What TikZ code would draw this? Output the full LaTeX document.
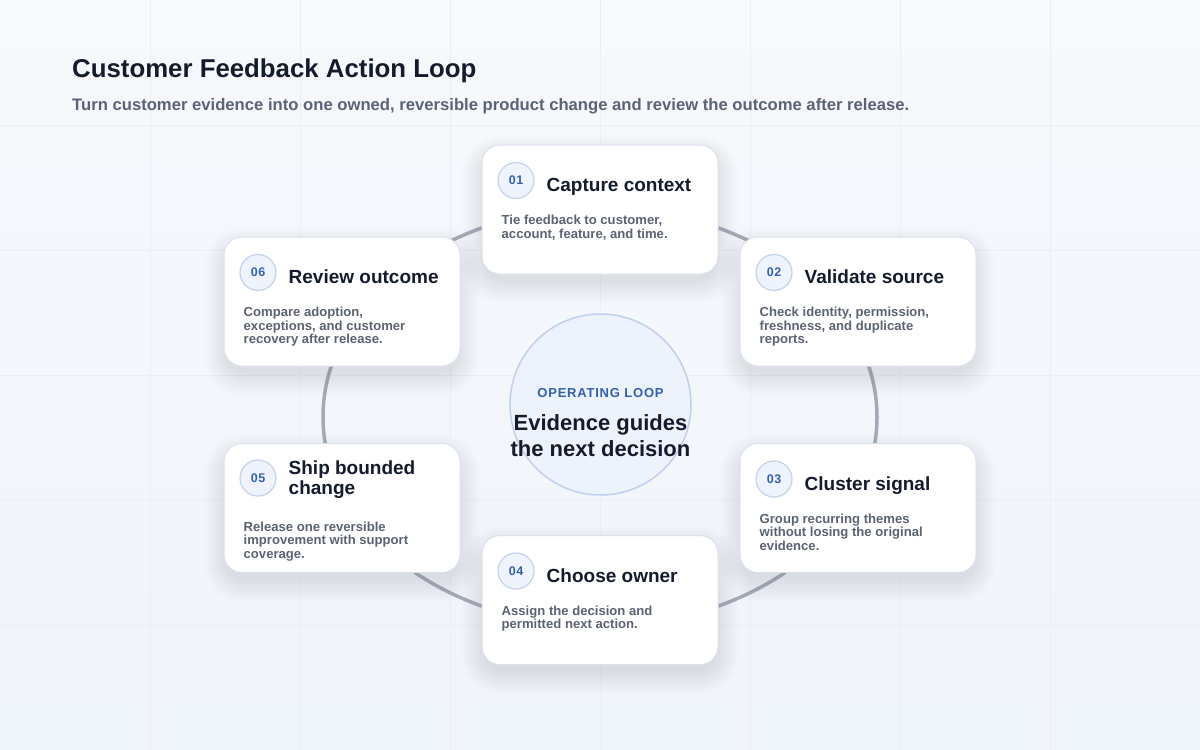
\documentclass[tikz,border=0pt]{standalone}
\usepackage{fontspec}
\setmainfont{Liberation Sans}
\newfontfamily\spacedfont[LetterSpace=6]{Liberation Sans}
\newfontfamily\badgefont[LetterSpace=4]{Liberation Sans}
\usetikzlibrary{calc}
\definecolor{bgtop}{HTML}{F7F9FC}
\definecolor{bgbot}{HTML}{F0F4FB}
\definecolor{gridc}{HTML}{EBEFF5}
\definecolor{ringc}{HTML}{A4AAB6}
\definecolor{cardedge}{HTML}{DCE2EC}
\definecolor{ink}{HTML}{141B2D}
\definecolor{subink}{HTML}{5B6476}
\definecolor{bodyink}{HTML}{5B6372}
\definecolor{accent}{HTML}{3461AE}
\definecolor{badgefill}{HTML}{EEF3FC}
\definecolor{badgeedge}{HTML}{C3D2EE}
\definecolor{hubfill}{HTML}{EDF3FD}
\definecolor{hubedge}{HTML}{BED0EE}
\definecolor{shadowc}{HTML}{5A6B8C}
\newcommand\cardshadow[2]{%
  \foreach \k in {0,...,11}{%
    \fill[shadowc, opacity=0.011, rounded corners=18pt+2pt*\k]
      (#1-116-2*\k, #2-62-2*\k+10) rectangle (#1+116+2*\k, #2+62+2*\k+10);
  }%
}
\tikzset{
  card/.style={draw=cardedge, line width=1pt, fill=white, rounded corners=18pt,
    minimum width=236pt, minimum height=129pt, inner sep=0pt},
  badge/.style={circle, fill=badgefill, draw=badgeedge, line width=1.2pt,
    minimum size=36pt, inner sep=0pt, text=accent,
    font=\badgefont\fontsize{12.5}{14}\selectfont\bfseries},
  ctitle/.style={anchor=base west, inner sep=0pt, text=ink,
    font=\fontsize{19}{20.5}\selectfont\bfseries},
  cbody/.style={anchor=base west, inner sep=0pt, text=bodyink,
    font=\fontsize{13.1}{13.5}\selectfont\bfseries},
  hub/.style={circle, fill=hubfill, draw=hubedge, line width=1.5pt,
    minimum size=181pt, inner sep=0pt},
}
\begin{document}
\begin{tikzpicture}[x=1pt,y=-1pt]
\shade[top color=bgtop, bottom color=bgbot] (0,0) rectangle (1200,750);
\useasboundingbox (0,0) rectangle (1200,750);
\foreach \gx in {150,300,...,1050} \draw[gridc, line width=1pt] (\gx,0) -- (\gx,750);
\foreach \gy in {125,250,...,625} \draw[gridc, line width=1pt] (0,\gy) -- (1200,\gy);

% title
\node[anchor=base west, inner sep=0pt, text=ink, font=\fontsize{25.8}{30}\selectfont\bfseries]
  (title) at (72,77) {Customer Feedback Action Loop};
\node[anchor=base west, inner sep=0pt, text=subink, font=\fontsize{16.65}{19}\selectfont\bfseries]
  (subtitle) at (72,110) {Turn customer evidence into one owned, reversible product change and review the outcome after release.};

% loop ring
\draw[ringc, line width=3.5pt] (600,417) ellipse [x radius=277, y radius=209];

% shadows
\cardshadow{600}{209.5}
\cardshadow{858}{301.5}
\cardshadow{858}{508}
\cardshadow{600}{600}
\cardshadow{342}{508}
\cardshadow{342}{301.5}

% cards
\node[card] (c1) at (600,209.5) {};
\node[card] (c2) at (858,301.5) {};
\node[card] (c3) at (858,508) {};
\node[card] (c4) at (600,600) {};
\node[card] (c5) at (342,508) {};
\node[card] (c6) at (342,301.5) {};

% card 01
\node[badge] (n1) at ($(c1.north west)+(34.5,36)$) {01};
\node[ctitle] (t1) at ($(c1.north west)+(65,47)$) {Capture context};
\node[cbody] (d1) at ($(c1.north west)+(20,80)$) {\parbox[t]{210pt}{\raggedright Tie feedback to customer,\\account, feature, and time.}};

% card 02
\node[badge] (n2) at ($(c2.north west)+(34.5,36)$) {02};
\node[ctitle] (t2) at ($(c2.north west)+(65,47)$) {Validate source};
\node[cbody] (d2) at ($(c2.north west)+(20,80)$) {\parbox[t]{210pt}{\raggedright Check identity, permission,\\freshness, and duplicate\\reports.}};

% card 03
\node[badge] (n3) at ($(c3.north west)+(34.5,36)$) {03};
\node[ctitle] (t3) at ($(c3.north west)+(65,47)$) {Cluster signal};
\node[cbody] (d3) at ($(c3.north west)+(20,80)$) {\parbox[t]{210pt}{\raggedright Group recurring themes\\without losing the original\\evidence.}};

% card 04
\node[badge] (n4) at ($(c4.north west)+(34.5,36)$) {04};
\node[ctitle] (t4) at ($(c4.north west)+(65,47)$) {Choose owner};
\node[cbody] (d4) at ($(c4.north west)+(20,80)$) {\parbox[t]{210pt}{\raggedright Assign the decision and\\permitted next action.}};

% card 05
\node[badge] (n5) at ($(c5.north west)+(34.5,35)$) {05};
\node[ctitle] (t5) at ($(c5.north west)+(65,31)$) {\parbox[t]{165pt}{\raggedright Ship bounded\\change}};
\node[cbody] (d5) at ($(c5.north west)+(20,88)$) {\parbox[t]{210pt}{\raggedright Release one reversible\\improvement with support\\coverage.}};

% card 06
\node[badge] (n6) at ($(c6.north west)+(34.5,36)$) {06};
\node[ctitle] (t6) at ($(c6.north west)+(65,47)$) {Review outcome};
\node[cbody] (d6) at ($(c6.north west)+(20,80)$) {\parbox[t]{210pt}{\raggedright Compare adoption,\\exceptions, and customer\\recovery after release.}};

% hub
\node[hub] (hub) at (600.5,404.5) {};
\node[anchor=base, inner sep=0pt, text=accent, font=\spacedfont\fontsize{13}{15}\selectfont\bfseries]
  (hubkicker) at (600.5,397) {OPERATING LOOP};
\node[anchor=base, inner sep=0pt, text=ink, font=\fontsize{22}{26}\selectfont\bfseries]
  (hubtext) at (600.5,430) {\parbox[t]{220pt}{\centering Evidence guides\\the next decision}};
\end{tikzpicture}
\end{document}
